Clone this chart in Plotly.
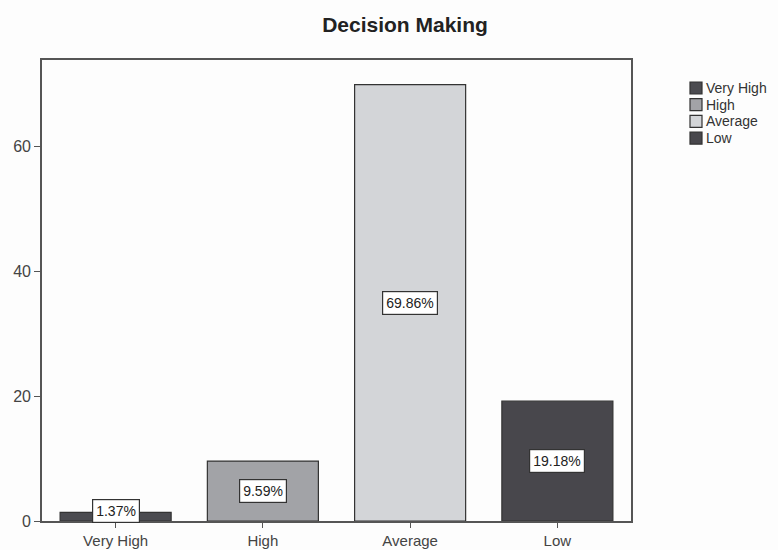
import plotly.graph_objects as go

categories = ["Very High", "High", "Average", "Low"]
values = [1.37, 9.59, 69.86, 19.18]
labels = ["1.37%", "9.59%", "69.86%", "19.18%"]
colors = ["#4b4b50", "#a2a3a7", "#d3d5d8", "#48474c"]
ytick_vals = [0, 20, 40, 60]

W, H = 778, 550
L, R, T, B = 42, 147, 60, 29
PW, PH = W - L - R, H - T - B
FONT = "Liberation Sans, Arial"

fig = go.Figure()
xs = list(range(len(categories)))
for i, (c, v, col) in enumerate(zip(categories, values, colors)):
    fig.add_trace(go.Bar(
        x=[xs[i]], y=[v], name=c, width=0.754, showlegend=False,
        marker=dict(color=col, line=dict(color="#333333", width=1.2)),
    ))
    fig.add_annotation(
        x=xs[i], y=max(v / 2, 1.6), text=labels[i], showarrow=False,
        bgcolor="white", bordercolor="#333333", borderwidth=1.2, borderpad=3,
        font=dict(size=14, color="#222222", family=FONT),
    )

# custom compact legend (paper coordinates)
def px_x(p):
    return (p - L) / PW

def px_y(p):
    return 1 - (p - T) / PH

for i, (c, col) in enumerate(zip(categories, colors)):
    yc = 88 + i * 16.7
    fig.add_shape(type="rect", xref="paper", yref="paper",
                  x0=px_x(690), x1=px_x(702), y0=px_y(yc + 6), y1=px_y(yc - 6),
                  fillcolor=col, line=dict(color="#333333", width=1.2))
    fig.add_annotation(xref="paper", yref="paper", x=px_x(704), y=px_y(yc),
                       xanchor="left", yanchor="middle", text=c, showarrow=False,
                       font=dict(size=14, color="#333333", family=FONT))

fig.update_layout(
    width=W, height=H,
    margin=dict(l=L, r=R, t=T, b=B),
    paper_bgcolor="#fdfdfd", plot_bgcolor="#fdfdfd",
    barmode="overlay",
    font=dict(family=FONT, color="#333333"),
    title=dict(text="<b>Decision Making</b>", x=405 / W, xanchor="center",
               y=1 - 25 / H, yanchor="middle",
               font=dict(size=21, color="#222222")),
    showlegend=False,
    xaxis=dict(range=[-0.5, 3.5], tickvals=xs, ticktext=categories,
               showgrid=False, zeroline=False, showline=True, mirror=True,
               linecolor="#555555", linewidth=1.6, ticks="outside",
               ticklen=5, tickcolor="#555555", automargin=False,
               tickfont=dict(size=15, color="#444444")),
    yaxis=dict(range=[0, 73.8], tickvals=ytick_vals, showgrid=False,
               zeroline=False, showline=True, mirror=True, automargin=False,
               linecolor="#555555", linewidth=1.6, ticks="outside",
               ticklen=6, tickcolor="#555555", tickfont=dict(size=16, color="#444444")),
)

fig.write_html("out.html")
